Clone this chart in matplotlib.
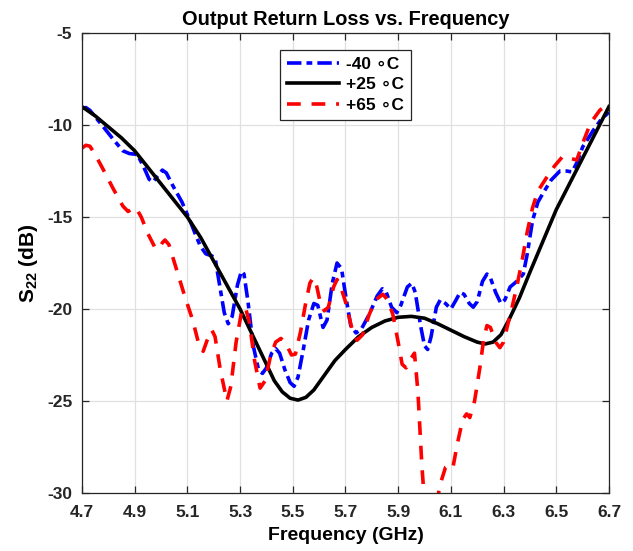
import matplotlib
matplotlib.use("Agg")
import matplotlib.pyplot as plt

plt.rcParams['font.family'] = ['Liberation Sans', 'DejaVu Sans']
plt.rcParams['font.weight'] = 'bold'
plt.rcParams['axes.unicode_minus'] = False
plt.rcParams['mathtext.fontset'] = 'custom'
plt.rcParams['mathtext.rm'] = 'Liberation Sans:bold'
plt.rcParams['mathtext.bf'] = 'Liberation Sans:bold'

# -40 C measurement
f_cold = [4.70, 4.715, 4.73, 4.77, 4.82, 4.855, 4.88, 4.91, 4.935, 4.955, 4.97, 4.985,
          5.005, 5.02, 5.045, 5.08, 5.11, 5.135, 5.15, 5.17, 5.19, 5.205, 5.22, 5.24,
          5.255, 5.27, 5.29, 5.305, 5.315, 5.33, 5.35, 5.37, 5.385, 5.40, 5.42, 5.435,
          5.45, 5.47, 5.49, 5.505, 5.52, 5.54, 5.56, 5.58, 5.595, 5.615, 5.63, 5.65,
          5.668, 5.685, 5.70, 5.72, 5.74, 5.76, 5.79, 5.82, 5.84, 5.855, 5.875, 5.895,
          5.91, 5.935, 5.952, 5.965, 5.985, 6.00, 6.012, 6.025, 6.045, 6.06, 6.08, 6.10,
          6.12, 6.135, 6.15, 6.17, 6.185, 6.20, 6.22, 6.237, 6.25, 6.27, 6.29, 6.305,
          6.325, 6.35, 6.375, 6.39, 6.41, 6.43, 6.45, 6.48, 6.514, 6.54, 6.56, 6.58,
          6.60, 6.64, 6.67, 6.70]
s_cold = [-9.1, -9.05, -9.2, -9.9, -10.8, -11.4, -11.55, -11.6, -12.3, -12.95, -13.1, -12.8,
          -12.45, -12.6, -13.3, -14.2, -15.2, -16.1, -16.6, -17.0, -17.1, -17.2, -18.5, -20.2,
          -20.8, -20.4, -18.7, -17.95, -18.1, -19.6, -22.0, -23.3, -23.5, -23.2, -22.4, -22.15,
          -22.4, -23.3, -24.0, -24.2, -23.7, -22.2, -20.6, -19.7, -19.8, -21.0, -20.6, -18.6,
          -17.5, -17.8, -19.2, -20.9, -21.3, -21.1, -20.3, -19.3, -18.9, -19.1, -19.9, -20.2,
          -19.8, -18.8, -18.6, -19.1, -20.9, -22.0, -22.2, -21.5, -19.9, -19.5, -19.7, -20.0,
          -19.5, -19.1, -19.2, -19.7, -19.9, -19.6, -18.5, -18.1, -18.3, -19.1, -19.7, -19.5,
          -18.8, -18.5, -18.1, -17.0, -15.2, -14.2, -13.7, -13.0, -12.5, -12.5, -12.55, -12.0,
          -11.2, -10.3, -9.7, -9.3]

# +25 C measurement
f_room = [4.70, 4.75, 4.80, 4.85, 4.90, 4.95, 5.00, 5.05, 5.10, 5.15, 5.20, 5.25,
          5.30, 5.35, 5.40, 5.43, 5.46, 5.49, 5.52, 5.55, 5.58, 5.62, 5.66, 5.70,
          5.75, 5.80, 5.85, 5.90, 5.95, 6.00, 6.05, 6.10, 6.15, 6.20, 6.23, 6.26,
          6.29, 6.32, 6.36, 6.40, 6.45, 6.50, 6.55, 6.60, 6.65, 6.70]
s_room = [-9.0, -9.5, -10.1, -10.7, -11.4, -12.3, -13.2, -14.1, -15.0, -16.1, -17.4, -18.7,
          -20.0, -21.5, -23.0, -23.9, -24.5, -24.85, -24.95, -24.8, -24.4, -23.6, -22.8, -22.2,
          -21.5, -21.0, -20.65, -20.45, -20.4, -20.5, -20.8, -21.15, -21.5, -21.8, -21.9, -21.8,
          -21.4, -20.6, -19.4, -18.0, -16.3, -14.6, -13.2, -11.8, -10.4, -9.0]

# +65 C measurement
f_hot = [4.70, 4.715, 4.73, 4.75, 4.78, 4.82, 4.855, 4.875, 4.89, 4.905, 4.925, 4.95,
         4.975, 4.99, 5.005, 5.015, 5.03, 5.06, 5.09, 5.12, 5.145, 5.16, 5.175, 5.193,
         5.205, 5.225, 5.25, 5.265, 5.285, 5.305, 5.32, 5.335, 5.355, 5.376, 5.395, 5.415,
         5.435, 5.455, 5.475, 5.495, 5.51, 5.53, 5.55, 5.565, 5.577, 5.59, 5.605, 5.62,
         5.635, 5.655, 5.668, 5.68, 5.70, 5.725, 5.744, 5.765, 5.79, 5.815, 5.842, 5.86,
         5.88, 5.90, 5.915, 5.93, 5.948, 5.962, 5.975, 5.99, 6.005, 6.02, 6.04, 6.06,
         6.08, 6.095, 6.108, 6.125, 6.145, 6.16, 6.172, 6.19, 6.21, 6.225, 6.237, 6.25,
         6.27, 6.286, 6.30, 6.315, 6.33, 6.35, 6.37, 6.39, 6.41, 6.43, 6.45, 6.475,
         6.495, 6.525, 6.55, 6.578, 6.60, 6.63, 6.665, 6.70]
s_hot = [-11.25, -11.1, -11.15, -11.6, -12.4, -13.5, -14.4, -14.7, -14.55, -14.5, -15.0, -15.9,
         -16.6, -16.75, -16.4, -16.25, -16.5, -17.9, -19.3, -20.6, -22.0, -22.3, -21.7, -21.15,
         -21.5, -23.3, -25.0, -24.2, -21.8, -20.2, -19.9, -20.7, -22.8, -24.3, -23.9, -22.6,
         -21.8, -21.6, -21.9, -22.5, -22.45, -21.2, -19.6, -18.6, -18.3, -18.7, -19.7, -20.1,
         -19.9, -18.8, -18.4, -18.7, -19.6, -21.1, -21.7, -21.4, -20.3, -19.5, -19.2, -19.5,
         -20.3, -21.8, -23.0, -23.2, -22.7, -22.4, -24.5, -28.5, -31.5, -33.0, -31.0, -29.5,
         -28.6, -28.45, -28.6, -27.3, -26.0, -25.7, -25.9, -25.0, -23.2, -21.6, -20.9, -21.0,
         -21.8, -22.1, -21.8, -20.9, -20.05, -18.8, -17.4, -15.8, -14.5, -13.6, -13.15, -12.6,
         -12.2, -11.7, -11.8, -11.9, -11.0, -9.9, -9.2, -8.8]

xticks = [4.7, 4.9, 5.1, 5.3, 5.5, 5.7, 5.9, 6.1, 6.3, 6.5, 6.7]
yticks = [-30, -25, -20, -15, -10, -5]
labels = ['-40 \u2218C', '+25 \u2218C', '+65 \u2218C']

fig = plt.figure(figsize=(6.33, 5.51), dpi=100)
ax = fig.add_axes([0.1295, 0.1053, 0.8325, 0.8347])

ax.plot(f_cold, s_cold, color='#0000ff', lw=2.6, dashes=(4, 1.4, 1.6, 1.4),
        solid_joinstyle='round', label=labels[0])
ax.plot(f_room, s_room, color='black', lw=2.6, solid_joinstyle='round', label=labels[1])
ax.plot(f_hot, s_hot, color='#ff0000', lw=2.6, dashes=(3.8, 3.0),
        solid_joinstyle='round', label=labels[2])

ax.set_xlim(4.7, 6.7)
ax.set_ylim(-30, -5)
ax.set_xticks(xticks)
ax.set_xticklabels([f'{t:.1f}' for t in xticks])
ax.set_yticks(yticks)
ax.grid(True, color='#e0e0e0', lw=0.9)
ax.set_axisbelow(True)
ax.tick_params(direction='in', top=True, right=True, length=5, width=0.9,
               colors='#262626', labelsize=12.5)
ax.tick_params(axis='x', pad=9)
ax.tick_params(axis='y', pad=7)
for sp in ax.spines.values():
    sp.set_color('#262626')
    sp.set_linewidth(0.9)

ax.set_title('Output Return Loss vs. Frequency', fontsize=14.4, fontweight='bold', pad=6)
ax.set_xlabel('Frequency (GHz)', fontsize=14, fontweight='bold', labelpad=5)
ax.set_ylabel(r'S$_{\mathbf{22}}$ (dB)', fontsize=15, fontweight='bold', labelpad=5)

leg = ax.legend(loc='upper center', bbox_to_anchor=(0.5, 0.982), fontsize=12.5,
                handlelength=3.0, fancybox=False, framealpha=1, edgecolor='#262626',
                borderpad=0.4, labelspacing=0.3, handletextpad=0.4)
leg.get_frame().set_linewidth(0.9)

fig.savefig('out.png', dpi=100)
